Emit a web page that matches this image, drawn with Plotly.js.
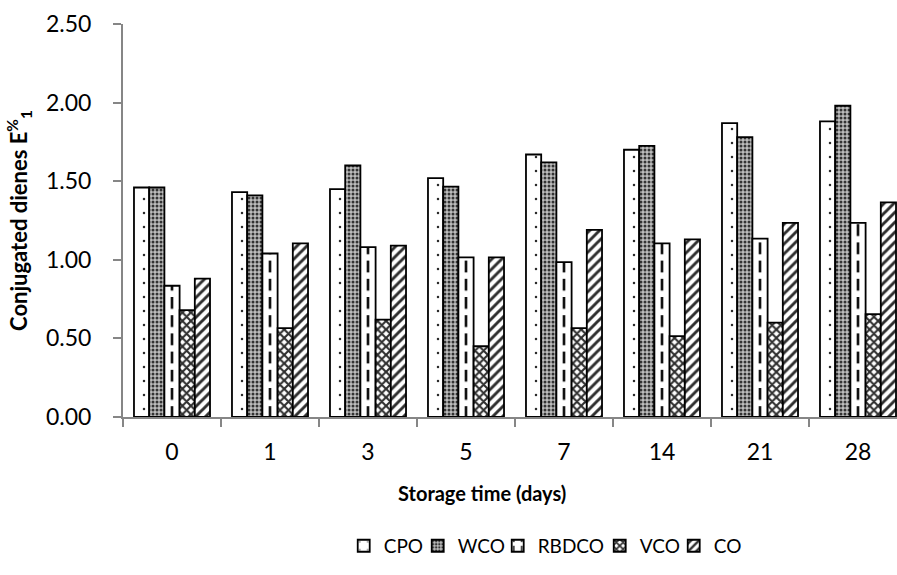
<!DOCTYPE html>
<html>
<head>
<meta charset="utf-8">
<script src="https://cdn.plot.ly/plotly-3.0.1.min.js"></script>
<style>html,body{margin:0;padding:0;background:#fff;}#chart{width:897px;height:575px;}</style>
</head>
<body>
<div id="chart"></div>
<script>
const categories = ['0', '1', '3', '5', '7', '14', '21', '28'];
const seriesNames = ['CPO', 'WCO', 'RBDCO', 'VCO', 'CO'];
const cpo   = [1.46, 1.43, 1.45, 1.52, 1.67, 1.70, 1.87, 1.88];
const wco   = [1.46, 1.41, 1.60, 1.465, 1.62, 1.725, 1.78, 1.98];
const rbdco = [0.835, 1.04, 1.08, 1.015, 0.985, 1.105, 1.135, 1.235];
const vco   = [0.68, 0.565, 0.62, 0.45, 0.565, 0.515, 0.60, 0.655];
const co    = [0.88, 1.105, 1.09, 1.015, 1.19, 1.13, 1.235, 1.365];
const yTickVals = [0, 0.5, 1.0, 1.5, 2.0, 2.5];
const yTickText = ['0.00', '0.50', '1.00', '1.50', '2.00', '2.50'];

const FONT = 'Lato, "Open Sans", sans-serif';
const CAT_PX = 98; // pixel width of one category on the x axis
const patterns = [
  {shape: '.', fgcolor: '#2a2a2a', bgcolor: '#ffffff', size: CAT_PX / 7, solidity: 0.025},
  {shape: '.', fgcolor: '#333333', bgcolor: '#bdbdbd', size: 4, solidity: 0.45},
  {shape: '|', fgcolor: '#111111', bgcolor: '#ffffff', size: CAT_PX / 7, solidity: 0.19},
  {shape: 'x', fgcolor: '#2e2e2e', bgcolor: '#ffffff', size: 6, solidity: 0.58},
  {shape: '/', fgcolor: '#2e2e2e', bgcolor: '#ffffff', size: 7, solidity: 0.42}
];
const legendWidths = [29, 35, 57, 29, 28];
const values = [cpo, wco, rbdco, vco, co];

const traces = seriesNames.map((name, i) => ({
  type: 'bar',
  name: name,
  x: categories,
  y: values[i],
  legendwidth: legendWidths[i],
  marker: {
    color: '#ffffff',
    pattern: patterns[i],
    line: {color: '#000000', width: 1.8}
  },
  hoverinfo: 'x+y+name'
}));

const layout = {
  width: 897,
  height: 575,
  margin: {l: 123, r: 0, t: 24, b: 158},
  paper_bgcolor: '#ffffff',
  plot_bgcolor: '#ffffff',
  font: {family: FONT, size: 21, color: '#000000'},
  barmode: 'group',
  bargap: 0.224,
  bargroupgap: 0,
  showlegend: true,
  legend: {
    orientation: 'h',
    x: 0.5455, xanchor: 'center',
    y: -0.328, yanchor: 'middle',
    font: {family: FONT, size: 19, color: '#000'},
    itemwidth: 30,
    traceorder: 'normal'
  },
  xaxis: {
    type: 'category',
    range: [-0.5, -0.5 + 774 / CAT_PX],
    showline: true,
    linecolor: '#868686',
    linewidth: 2,
    ticks: 'outside',
    tickson: 'boundaries',
    ticklen: 8,
    tickcolor: '#868686',
    tickwidth: 2,
    ticklabelstandoff: 13,
    showgrid: false,
    zeroline: false,
    tickfont: {family: FONT, size: 23, color: '#000'}
  },
  yaxis: {
    range: [0, 2.5],
    tickvals: yTickVals,
    ticktext: yTickText,
    showline: true,
    linecolor: '#868686',
    linewidth: 2,
    ticks: 'outside',
    ticklen: 8,
    tickcolor: '#868686',
    tickwidth: 2,
    ticklabelstandoff: 17,
    showgrid: false,
    zeroline: false,
    tickfont: {family: FONT, size: 23, color: '#000'},
    title: {
      text: '<b>Conjugated dienes E<sup>%</sup><sub>1</sub></b>',
      font: {family: FONT, size: 22, color: '#000'},
      standoff: 12
    }
  },
  annotations: [{
    text: '<b>Storage time (days)</b>',
    xref: 'paper', yref: 'paper',
    x: 0.4638, y: -0.193,
    xanchor: 'center', yanchor: 'middle',
    showarrow: false,
    font: {family: FONT, size: 20, color: '#000'}
  }]
};

// Turn the vertical-line fill pattern into a dashed vertical line (as in the reference)
function dashVerticalPatterns() {
  const NS = 'http://www.w3.org/2000/svg';
  document.querySelectorAll('pattern').forEach(p => {
    const path = p.querySelector('path');
    if (!path) return;
    const m = (path.getAttribute('d') || '').match(/^M([\d.]+),0L([\d.]+),([\d.]+)$/);
    if (!m || m[1] !== m[2]) return;
    const w = parseFloat(p.getAttribute('width'));
    const sw = parseFloat(path.getAttribute('stroke-width')) || 2;
    const cx = parseFloat(m[1]);
    const tileH = w * 1.3;
    const dashH = tileH * 0.65;
    p.setAttribute('height', tileH + 'px');
    const bg = p.querySelector('rect');
    if (bg) bg.setAttribute('height', tileH + 'px');
    const r = document.createElementNS(NS, 'rect');
    r.setAttribute('x', cx - sw / 2);
    r.setAttribute('y', 0);
    r.setAttribute('width', sw);
    r.setAttribute('height', dashH);
    r.setAttribute('fill', path.getAttribute('stroke') || '#111');
    path.parentNode.replaceChild(r, path);
  });
}

Plotly.newPlot('chart', traces, layout, {displayModeBar: false, staticPlot: true})
  .then(dashVerticalPatterns);
</script>
</body>
</html>
